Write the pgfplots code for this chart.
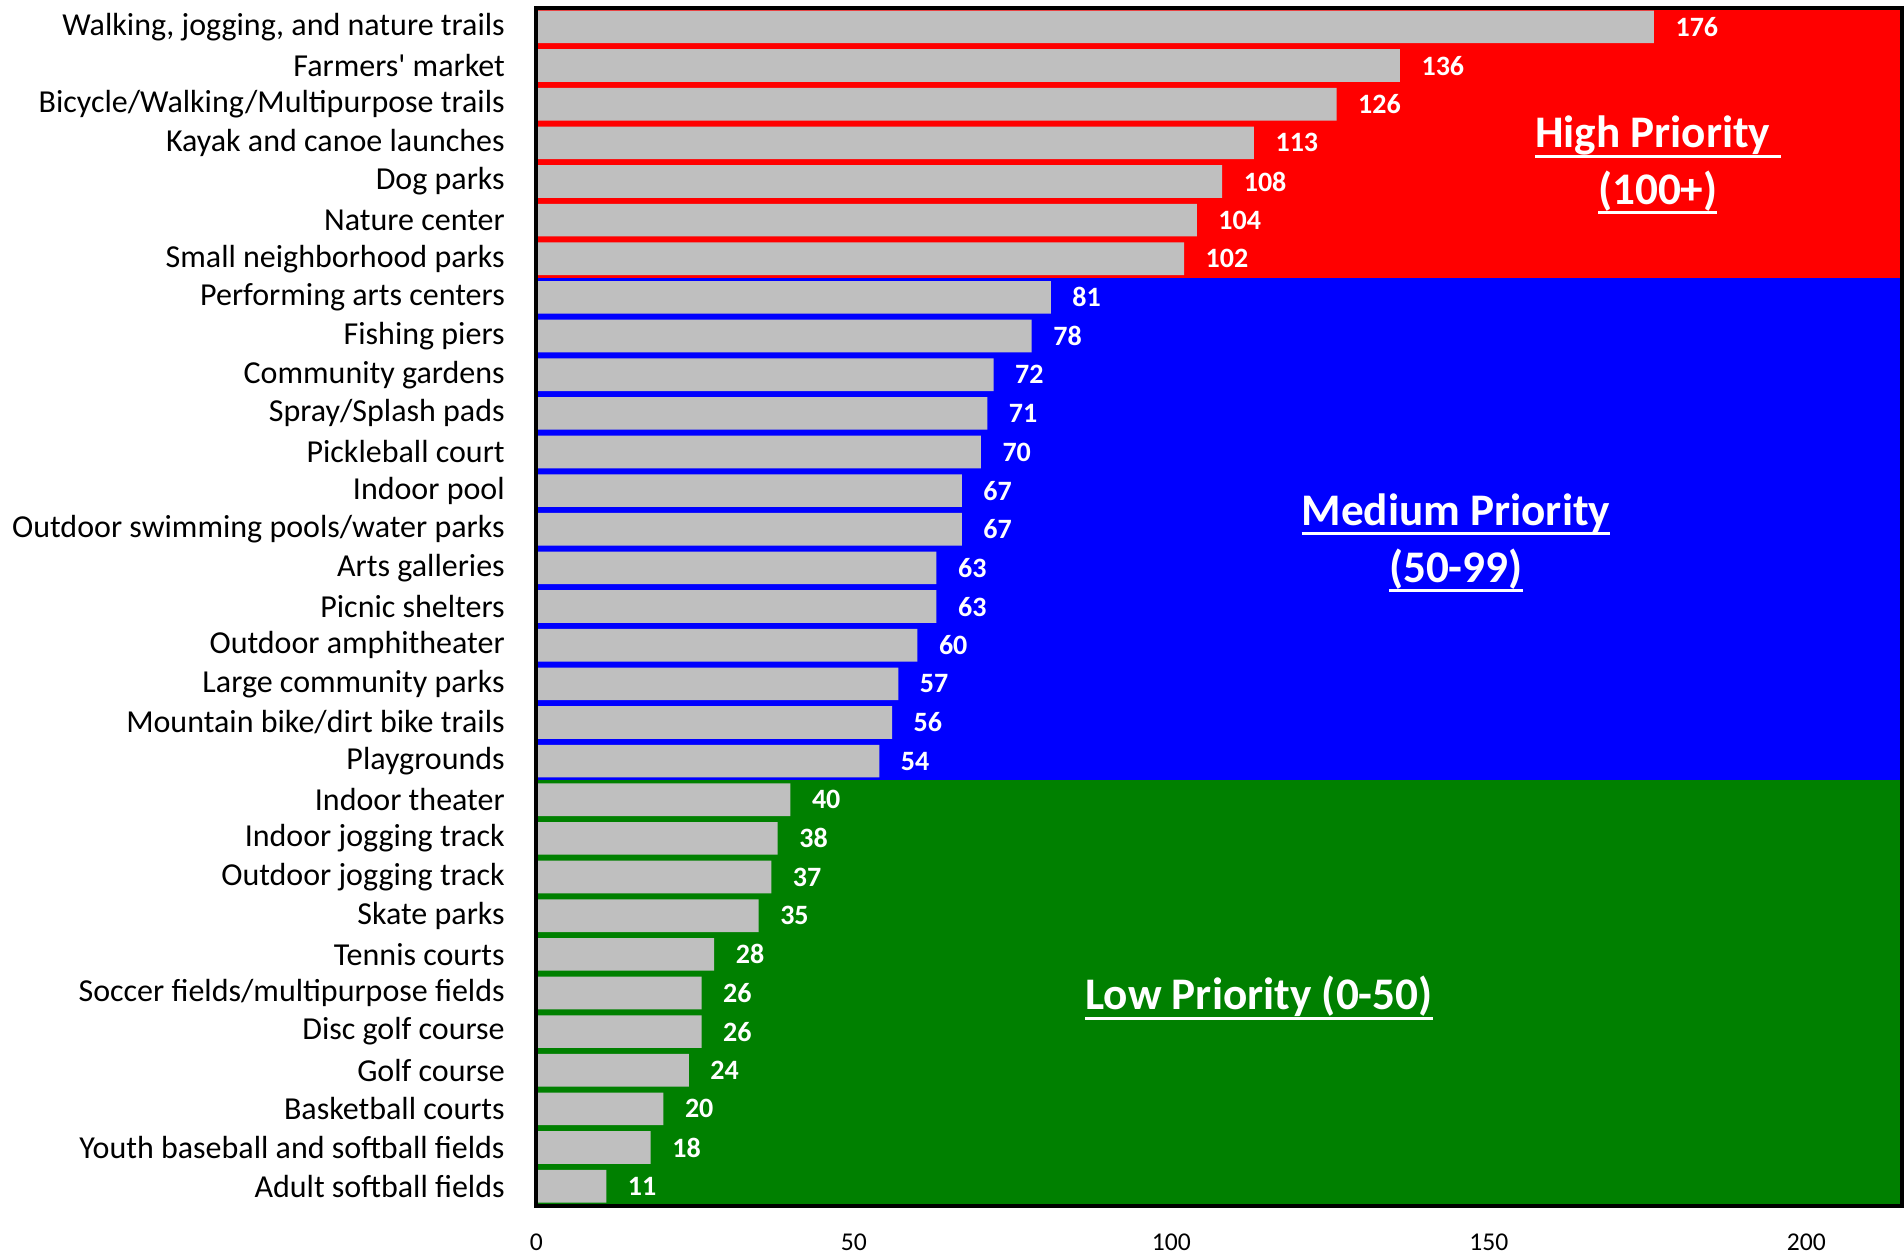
\documentclass[border=0pt]{standalone}
\usepackage{pgfplots}
\pgfplotsset{compat=1.18}
\usepackage{fontspec}
\setmainfont{Carlito}[Ligatures=TeXOff]
\definecolor{bandred}{RGB}{255,0,0}
\definecolor{bandblue}{RGB}{0,0,255}
\definecolor{bandgreen}{RGB}{0,128,0}
\definecolor{bargray}{RGB}{191,191,191}
\newsavebox\ulbox
\newcommand\myul[1]{\sbox\ulbox{#1}\rlap{\rule[-2.4pt]{\wd\ulbox}{0.75pt}}\usebox\ulbox}
\begin{document}
\begin{tikzpicture}
\begin{axis}[
  scale only axis, width=341.25pt, height=299.45pt,
  xmin=0, xmax=215, ymin=-0.5, ymax=30.5, y dir=reverse,
  axis on top,
  axis line style={line width=1pt, black},
  xtick={0,50,100,150,200},
  ytick={0,...,30},
  yticklabels={{Walking, jogging, and nature trails},{Farmers' market},{Bicycle/Walking/Multipurpose trails},{Kayak and canoe launches},{Dog parks},{Nature center},{Small neighborhood parks},{Performing arts centers},{Fishing piers},{Community gardens},{Spray/Splash pads},{Pickleball court},{Indoor pool},{Outdoor swimming pools/water parks},{Arts galleries},{Picnic shelters},{Outdoor amphitheater},{Large community parks},{Mountain bike/dirt bike trails},{Playgrounds},{Indoor theater},{Indoor jogging track},{Outdoor jogging track},{Skate parks},{Tennis courts},{Soccer fields/multipurpose fields},{Disc golf course},{Golf course},{Basketball courts},{Youth baseball and softball fields},{Adult softball fields}},
  major tick length=0pt,
  /pgf/number format/assume math mode=true,
  xticklabel style={font=\fontsize{6.4}{7}\selectfont, yshift=-3.6pt},
  yticklabel style={font=\fontsize{8}{9.6}\selectfont, xshift=-4.4pt},
  clip=false,
]
\addplot[xbar, bar width=7, bar shift=0pt, fill=bandred, draw=none] coordinates {(215,3)};
\addplot[xbar, bar width=13, bar shift=0pt, fill=bandblue, draw=none] coordinates {(215,13)};
\addplot[xbar, bar width=11, bar shift=0pt, fill=bandgreen, draw=none] coordinates {(215,25)};
\addplot[xbar, bar width=0.845, bar shift=0pt, fill=bargray, draw=none,
  nodes near coords,
  nodes near coords style={font=\fontsize{7}{8}\selectfont\bfseries, text=white, anchor=west, inner sep=0pt, xshift=5.2pt}]
  coordinates {
  (176,0) (136,1) (126,2) (113,3) (108,4) (104,5) (102,6)
  (81,7) (78,8) (72,9) (71,10) (70,11) (67,12) (67,13) (63,14) (63,15) (60,16) (57,17) (56,18) (54,19)
  (40,20) (38,21) (37,22) (35,23) (28,24) (26,25) (26,26) (24,27) (20,28) (18,29) (11,30)
  };
\node[text=white, font=\fontsize{11.3}{14.2}\selectfont\bfseries, align=center] at (axis cs:176.6,3.58) {\myul{High Priority\ }\\\myul{(100+)}};
\node[text=white, font=\fontsize{11.3}{14.2}\selectfont\bfseries, align=center] at (axis cs:144.8,13.36) {\myul{Medium Priority}\\\myul{(50-99)}};
\node[text=white, font=\fontsize{11.3}{14.2}\selectfont\bfseries, align=center] at (axis cs:113.8,25.13) {\myul{Low Priority (0-50)}};
\end{axis}
\pgfresetboundingbox
\useasboundingbox ([shift={(-134.1pt,-12.7pt)}]current axis.south west) rectangle ([shift={(0.6pt,1.9pt)}]current axis.north east);
\end{tikzpicture}
\end{document}
